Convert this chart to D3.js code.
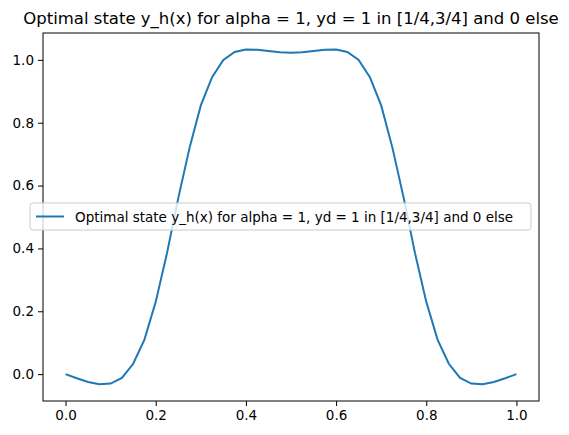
<!DOCTYPE html>
<html>
<head>
<meta charset="UTF-8">
<script src="https://d3js.org/d3.v7.min.js"></script>
<style>
  body { margin: 0; background: #fff; font-family: "DejaVu Sans", sans-serif; }
</style>
</head>
<body>
<svg width="569" height="435"></svg>
<script>
  const title = "Optimal state y_h(x) for alpha = 1, yd = 1 in [1/4,3/4] and 0 else";
  // half of the curve, x = 0 .. 0.5 step 0.025; the other half mirrors it
  const halfY = [0, -0.013, -0.025, -0.032, -0.03, -0.012, 0.033, 0.11, 0.23, 0.385,
                 0.56, 0.72, 0.855, 0.945, 1.0, 1.025, 1.033, 1.032, 1.028, 1.024, 1.023];
  const yVals = halfY.concat(halfY.slice(0, -1).reverse());
  const xVals = yVals.map((d, i) => i / 40);
  const xTicks = [0, 0.2, 0.4, 0.6, 0.8, 1.0];
  const yTicks = [0, 0.2, 0.4, 0.6, 0.8, 1.0];

  const svg = d3.select("svg");
  const L = 43, R = 539, T = 33, B = 401;
  const x = d3.scaleLinear().domain([-0.05, 1.05]).range([L, R]);
  const y = d3.scaleLinear().domain([-0.0855, 1.0855]).range([B, T]);

  svg.append("rect").attr("x", L).attr("y", T).attr("width", R - L).attr("height", B - T)
    .attr("fill", "none").attr("stroke", "#000").attr("stroke-width", 1);

  const xa = svg.append("g").attr("transform", `translate(0,${B})`)
    .call(d3.axisBottom(x).tickValues(xTicks).tickFormat(d3.format(".1f")).tickSize(5).tickPadding(4));
  const ya = svg.append("g").attr("transform", `translate(${L},0)`)
    .call(d3.axisLeft(y).tickValues(yTicks).tickFormat(d3.format(".1f")).tickSize(5).tickPadding(4));
  [xa, ya].forEach(a => {
    a.select(".domain").remove();
    a.selectAll("text").attr("font-size", 13.5).attr("font-family", "DejaVu Sans").attr("fill", "#000");
    a.selectAll("line").attr("stroke", "#000").attr("stroke-width", 1);
  });

  const line = d3.line().x((d, i) => x(xVals[i])).y(d => y(d));
  svg.append("path").datum(yVals).attr("d", line)
    .attr("fill", "none").attr("stroke", "#1f77b4").attr("stroke-width", 2);

  svg.append("text").attr("x", (L + R) / 2).attr("y", T - 9).attr("text-anchor", "middle")
    .attr("font-size", 16.5).attr("fill", "#000").text(title);

  // legend
  const lg = svg.append("g");
  lg.append("rect").attr("x", 30).attr("y", 203).attr("width", 501).attr("height", 27).attr("rx", 3)
    .attr("fill", "#fff").attr("fill-opacity", 0.8).attr("stroke", "#ccc").attr("stroke-width", 1);
  lg.append("line").attr("x1", 36).attr("x2", 64).attr("y1", 216.5).attr("y2", 216.5)
    .attr("stroke", "#1f77b4").attr("stroke-width", 2);
  lg.append("text").attr("x", 75).attr("y", 221.5).attr("font-size", 13.5).attr("fill", "#000").text(title);
</script>
</body>
</html>
